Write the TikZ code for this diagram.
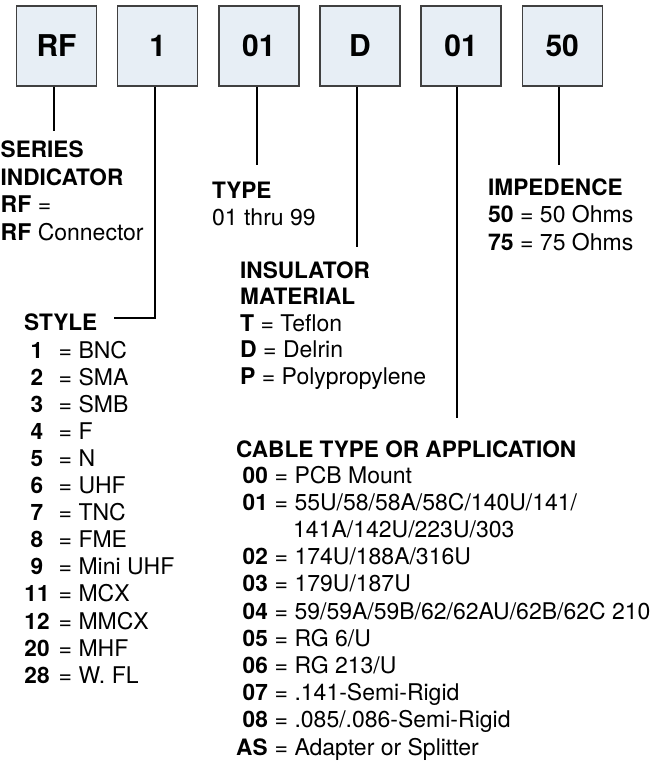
\documentclass[tikz,border=0pt]{standalone}
\usepackage{fontspec}
\setmainfont{TeX Gyre Heros}
\definecolor{boxfill}{HTML}{E7EEF5}
\definecolor{boxline}{HTML}{404040}
\begin{document}
\begin{tikzpicture}[x=1pt,y=-1pt,
  codebox/.style={draw=boxline,line width=1.4pt,fill=boxfill,minimum width=80pt,minimum height=80pt,inner sep=0pt,font=\fontsize{30}{36}\selectfont\bfseries},
  txt/.style={inner sep=0pt,anchor=base west,font=\fontsize{23}{27}\selectfont},
  hd/.style={txt,font=\fontsize{22.6}{27}\selectfont\bfseries},
  num/.style={inner sep=0pt,anchor=base,font=\fontsize{22.6}{27}\selectfont\bfseries},
  numw/.style={txt,font=\fontsize{22.6}{27}\selectfont\bfseries},
  lead/.style={line width=2pt,black}]
\useasboundingbox (0,0) rectangle (671,762);

% code boxes
\node[codebox] (b1) at (56.5,46) {RF};
\node[codebox] (b2) at (157.6,46) {1};
\node[codebox] (b3) at (258.8,46) {01};
\node[codebox] (b4) at (360,46) {D};
\node[codebox] (b5) at (461.1,46) {01};
\node[codebox] (b6) at (562.2,46) {50};

% leader end points
\coordinate (e1) at (54,131);
\coordinate (e2) at (154.7,318);
\coordinate (e2b) at (114,318);
\coordinate (e3) at (256.8,165);
\coordinate (e4) at (357.3,247);
\coordinate (e5) at (457,418);
\coordinate (e6) at (558.8,165);

\draw[lead] (b1.south -| e1) -- (e1);
\draw[lead] (b2.south -| e2) -- (e2) -- (e2b);
\draw[lead] (b3.south -| e3) -- (e3);
\draw[lead] (b4.south -| e4) -- (e4);
\draw[lead] (b5.south -| e5) -- (e5);
\draw[lead] (b6.south -| e6) -- (e6);

% series indicator
\node[hd] (s1) at (0.5,158) {SERIES};
\node[hd] (s2) at (0.5,185.3) {INDICATOR};
\node[txt] (s3) at (0.5,212.6) {\textbf{RF} =};
\node[txt] (s4) at (0.5,240) {\textbf{RF} Connector};

% type
\node[hd] (t1) at (212,198) {TYPE};
\node[txt] (t2) at (212,225.5) {01 thru 99};

% impedence
\node[hd] (i1) at (488,195) {IMPEDENCE};
\node[txt] (i2) at (488,222.5) {\textbf{50} = 50 Ohms};
\node[txt] (i3) at (488,250) {\textbf{75} = 75 Ohms};

% insulator
\node[hd] (m1) at (240,278) {INSULATOR};
\node[hd] (m2) at (240,304.5) {MATERIAL};
\node[txt] (m3) at (240,331) {\textbf{T} = Teflon};
\node[txt] (m4) at (240,357.5) {\textbf{D} = Delrin};
\node[txt] (m5) at (240,384) {\textbf{P} = Polypropylene};

% style
\node[hd] (st) at (24,330) {STYLE};
\foreach \n/\v [count=\i from 0] in {1/BNC,2/SMA,3/SMB,4/F,5/N,6/UHF,7/TNC,8/FME,9/Mini UHF,11/MCX,12/MMCX,20/MHF,28/W. FL}{
  \node[num] (sn\i) at (37,358+27.1*\i) {\n};
  \node[txt] (sv\i) at (58.5,358+27.1*\i) {= \v};
}

% cable type
\node[hd] (c0) at (236,457) {CABLE TYPE OR APPLICATION};
\node[numw] (cn0) at (242.5,483) {00};
\node[txt] (cv0) at (274.5,483) {= PCB Mount};
\node[numw] (cn1) at (242.5,510.2) {01};
\node[txt] (cv1) at (274.5,510.2) {= 55U/58/58A/58C/140U/141/};
\node[txt] (cv1b) at (293,537.4) {141A/142U/223U/303};
\node[numw] (cn2) at (242.5,564.6) {02};
\node[txt] (cv2) at (274.5,564.6) {= 174U/188A/316U};
\node[numw] (cn3) at (242.5,591.8) {03};
\node[txt] (cv3) at (274.5,591.8) {= 179U/187U};
\node[numw] (cn4) at (242.5,619) {04};
\node[txt] (cv4) at (274.5,619) {= 59/59A/59B/62/62AU/62B/62C 210};
\node[numw] (cn5) at (242.5,646.2) {05};
\node[txt] (cv5) at (274.5,646.2) {= RG 6/U};
\node[numw] (cn6) at (242.5,673.4) {06};
\node[txt] (cv6) at (274.5,673.4) {= RG 213/U};
\node[numw] (cn7) at (242.5,700.6) {07};
\node[txt] (cv7) at (274.5,700.6) {= .141-Semi-Rigid};
\node[numw] (cn8) at (242.5,727.8) {08};
\node[txt] (cv8) at (274.5,727.8) {= .085/.086-Semi-Rigid};
\node[numw] (cn9) at (236,755) {AS};
\node[txt] (cv9) at (274.5,755) {= Adapter or Splitter};
\end{tikzpicture}
\end{document}
